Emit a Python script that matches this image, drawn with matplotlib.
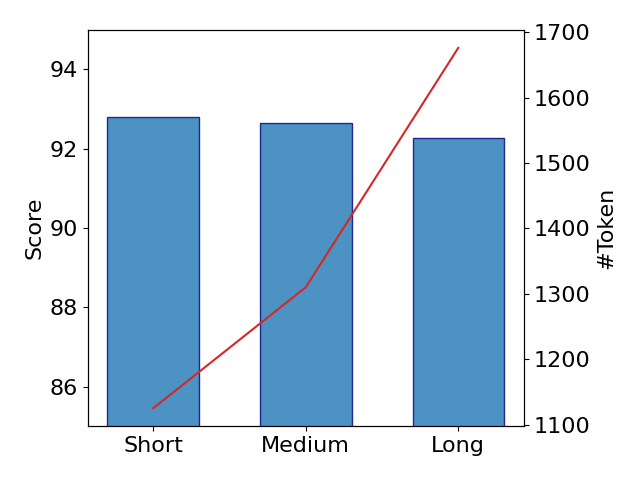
import matplotlib
matplotlib.use("Agg")
import matplotlib.pyplot as plt

categories = ["Short", "Medium", "Long"]
scores = [92.8, 92.65, 92.28]
tokens = [1125, 1310, 1676]

plt.rcParams['font.size'] = 16
fig, ax = plt.subplots(figsize=(6.4, 4.8), dpi=100)
x = range(len(categories))
ax.bar(x, scores, width=0.6, color="tab:blue", alpha=0.8, edgecolor="navy")
ax.set_ylim(85, 95)
ax.set_ylabel("Score")
ax.set_xticks(list(x))
ax.set_xticklabels(categories)

ax2 = ax.twinx()
ax2.plot(x, tokens, color="tab:red")
ax2.set_ylabel("#Token")

fig.tight_layout()
fig.savefig("out.png")
